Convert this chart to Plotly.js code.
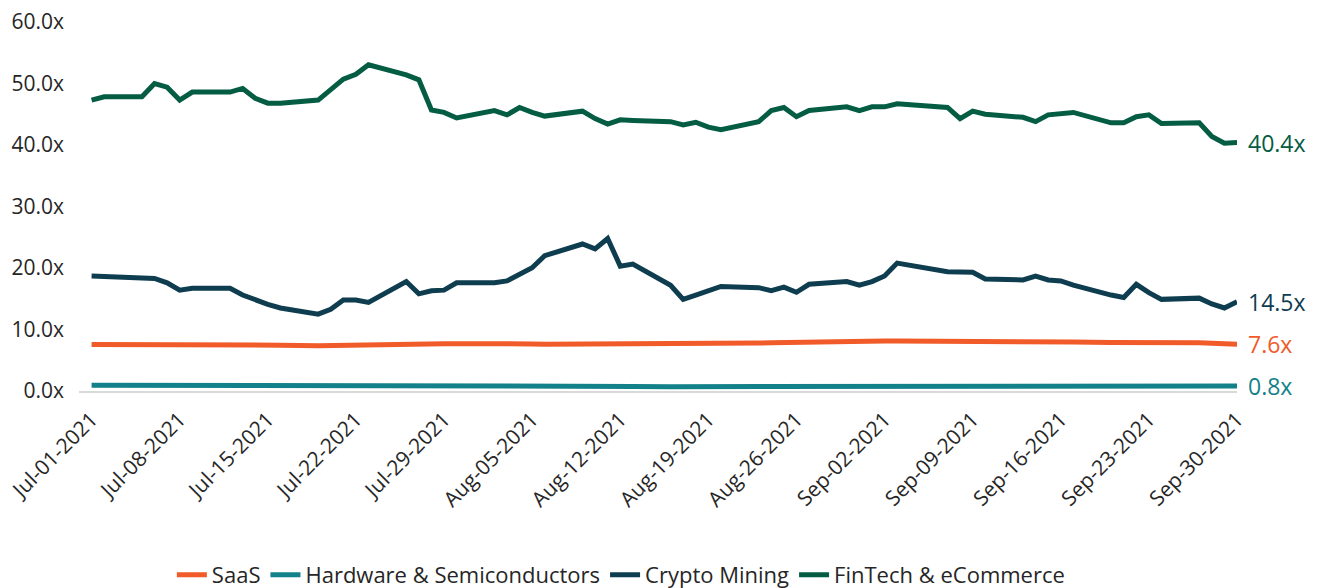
<!DOCTYPE html>
<html>
<head>
<meta charset="utf-8">
<script src="https://cdn.plot.ly/plotly-3.0.1.min.js"></script>
<style>html,body{margin:0;padding:0;background:#fff;}#chart{width:1321px;height:588px;}</style>
</head>
<body>
<div id="chart"></div>
<script>
const dates = [
  '2021-07-01','2021-07-02','2021-07-05','2021-07-06','2021-07-07','2021-07-08','2021-07-09',
  '2021-07-12','2021-07-13','2021-07-14','2021-07-15','2021-07-16',
  '2021-07-19','2021-07-20','2021-07-21','2021-07-22','2021-07-23',
  '2021-07-26','2021-07-27','2021-07-28','2021-07-29','2021-07-30',
  '2021-08-02','2021-08-03','2021-08-04','2021-08-05','2021-08-06',
  '2021-08-09','2021-08-10','2021-08-11','2021-08-12','2021-08-13',
  '2021-08-16','2021-08-17','2021-08-18','2021-08-19','2021-08-20',
  '2021-08-23','2021-08-24','2021-08-25','2021-08-26','2021-08-27',
  '2021-08-30','2021-08-31','2021-09-01','2021-09-02','2021-09-03',
  '2021-09-07','2021-09-08','2021-09-09','2021-09-10',
  '2021-09-13','2021-09-14','2021-09-15','2021-09-16','2021-09-17',
  '2021-09-20','2021-09-21','2021-09-22','2021-09-23','2021-09-24',
  '2021-09-27','2021-09-28','2021-09-29','2021-09-30'
];

const fintech = [
  47.3, 47.85, 47.85, 50.0, 49.4, 47.3, 48.6,
  48.6, 49.2, 47.6, 46.8, 46.8,
  47.3, 49.05, 50.7, 51.5, 53.05,
  51.4, 50.6, 45.7, 45.3, 44.4,
  45.6, 44.9, 46.1, 45.3, 44.7,
  45.5, 44.3, 43.4, 44.1, 44.0,
  43.8, 43.25, 43.7, 42.9, 42.5,
  43.8, 45.6, 46.1, 44.6, 45.6,
  46.2, 45.6, 46.2, 46.2, 46.7,
  46.1, 44.3, 45.5, 45.0,
  44.5, 43.8, 44.9, 45.1, 45.3,
  43.6, 43.6, 44.6, 44.9, 43.5,
  43.6, 41.4, 40.3, 40.4
];

const crypto = [
  18.7, 18.65, 18.5, 18.3, 17.6, 16.4, 16.7,
  16.7, 15.6, 14.8, 14.1, 13.5,
  12.5, 13.3, 14.8, 14.8, 14.4,
  17.8, 15.8, 16.3, 16.4, 17.6,
  17.6, 17.9, 19.0, 20.05, 22.0,
  23.9, 23.1, 24.8, 20.3, 20.65,
  17.2, 14.9, 15.6, 16.4, 17.0,
  16.8, 16.3, 16.9, 16.05, 17.35,
  17.8, 17.2, 17.8, 18.7, 20.8,
  19.4, 19.3, 19.3, 18.2,
  18.05, 18.7, 18.05, 17.9, 17.2,
  15.6, 15.2, 17.35, 16.0, 14.9,
  15.1, 14.15, 13.5, 14.5
];

const saas = [
  7.55, 7.55, 7.6, 7.6, 7.55, 7.5, 7.55,
  7.55, 7.5, 7.5, 7.45, 7.45,
  7.35, 7.4, 7.45, 7.5, 7.5,
  7.55, 7.55, 7.6, 7.7, 7.7,
  7.75, 7.75, 7.7, 7.65, 7.6,
  7.6, 7.6, 7.6, 7.6, 7.6,
  7.6, 7.6, 7.6, 7.65, 7.7,
  7.8, 7.85, 7.9, 7.9, 7.95,
  8.0, 8.0, 8.05, 8.15, 8.15,
  8.15, 8.05, 8.1, 8.05,
  8.0, 8.0, 8.05, 8.0, 7.95,
  7.9, 7.9, 7.95, 8.0, 7.95,
  7.85, 7.75, 7.6, 7.6
];

const hardware = [
  0.95, 0.95, 0.95, 0.95, 0.95, 0.9, 0.9,
  0.9, 0.85, 0.85, 0.85, 0.85,
  0.8, 0.8, 0.8, 0.8, 0.8,
  0.8, 0.8, 0.8, 0.8, 0.85,
  0.85, 0.8, 0.8, 0.8, 0.8,
  0.8, 0.8, 0.8, 0.8, 0.75,
  0.7, 0.7, 0.7, 0.7, 0.7,
  0.75, 0.75, 0.8, 0.8, 0.8,
  0.8, 0.8, 0.8, 0.85, 0.85,
  0.85, 0.85, 0.85, 0.85,
  0.85, 0.8, 0.8, 0.8, 0.8,
  0.8, 0.8, 0.8, 0.8, 0.8,
  0.8, 0.8, 0.8, 0.8
];

const tickDates = ['2021-07-01','2021-07-08','2021-07-15','2021-07-22','2021-07-29','2021-08-05',
  '2021-08-12','2021-08-19','2021-08-26','2021-09-02','2021-09-09','2021-09-16','2021-09-23','2021-09-30'];
const tickLabels = ['Jul-01-2021','Jul-08-2021','Jul-15-2021','Jul-22-2021','Jul-29-2021','Aug-05-2021',
  'Aug-12-2021','Aug-19-2021','Aug-26-2021','Sep-02-2021','Sep-09-2021','Sep-16-2021','Sep-23-2021','Sep-30-2021'];

const yTickVals = [0, 10, 20, 30, 40, 50, 60];
const yTickLabels = ['0.0x','10.0x','20.0x','30.0x','40.0x','50.0x','60.0x'];

const seriesNames = ['SaaS','Hardware & Semiconductors','Crypto Mining','FinTech & eCommerce'];
const seriesValues = [saas, hardware, crypto, fintech];
const colors = ['#f15a29','#13818a','#0e3d50','#045c43'];
const endLabels = ['7.6x','0.8x','14.5x','40.4x'];

const FONT = '"Open Sans", "Noto Sans", sans-serif';

const traces = seriesNames.map((n, i) => ({
  x: dates, y: seriesValues[i], name: n, type: 'scatter', mode: 'lines',
  line: {color: colors[i], width: 5, shape: 'linear'},
  hoverinfo: 'skip'
}));

const annotations = seriesNames.map((n, i) => ({
  x: dates[dates.length - 1], y: seriesValues[i][seriesValues[i].length - 1],
  xref: 'x', yref: 'y', text: endLabels[i], showarrow: false,
  xanchor: 'left', yanchor: 'middle', xshift: 9,
  font: {family: FONT, size: 23, color: colors[i]}
}));

const layout = {
  width: 1321, height: 588,
  margin: {l: 79, r: 84, t: 22, b: 197},
  paper_bgcolor: '#ffffff', plot_bgcolor: '#ffffff',
  showlegend: true,
  legend: {
    orientation: 'h', x: 0.47, xanchor: 'center', xref: 'container',
    y: 0.022, yanchor: 'middle', yref: 'container',
    font: {family: FONT, size: 22, color: '#262626'},
    itemwidth: 30, tracegroupgap: 0, itemclick: false
  },
  xaxis: {
    type: 'date', range: ['2021-06-30', '2021-09-30'], automargin: false,
    tickvals: tickDates, ticktext: tickLabels, tickangle: -45,
    tickfont: {family: FONT, size: 21, color: '#262626'},
    showgrid: false, zeroline: false, showline: true, linecolor: '#d9d9d9', linewidth: 2,
    ticks: '', ticklabelstandoff: 6, fixedrange: true
  },
  yaxis: {
    range: [0, 60], automargin: false,
    tickvals: yTickVals, ticktext: yTickLabels,
    tickfont: {family: FONT, size: 21, color: '#262626'},
    showgrid: false, zeroline: false, showline: false, ticks: '',
    ticklabelstandoff: 14, fixedrange: true
  },
  annotations: annotations
};

Plotly.newPlot('chart', traces, layout, {displayModeBar: false, staticPlot: true});
</script>
</body>
</html>
